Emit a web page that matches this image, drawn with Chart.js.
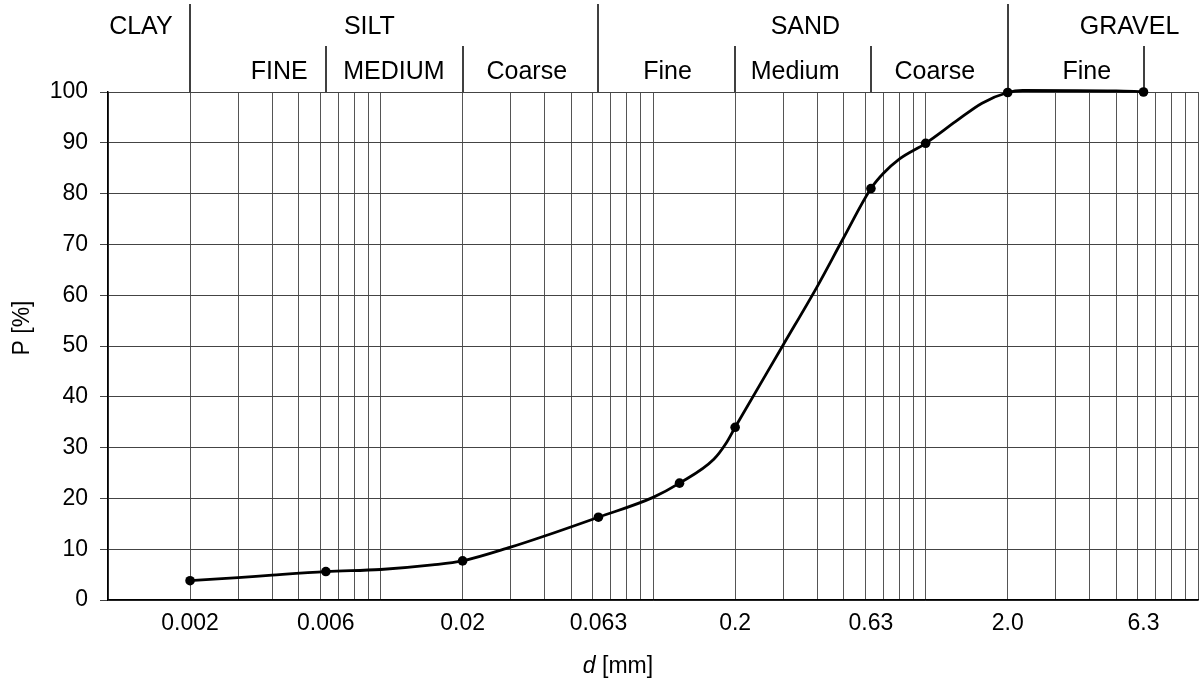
<!DOCTYPE html>
<html>
<head>
<meta charset="utf-8">
<script src="https://cdn.jsdelivr.net/npm/chart.js@4.4.1/dist/chart.umd.min.js"></script>
<style>
  body { margin: 0; background: #fff; }
  #wrap { width: 1203px; height: 685px; }
</style>
</head>
<body>
<div id="wrap"><canvas id="grading" width="1203" height="685"></canvas></div>
<script>
// grading curve: grain size d [mm] and passing P [%]
const curveSizes   = [0.002, 0.003, 0.004, 0.0063, 0.01, 0.0155, 0.02, 0.03, 0.04, 0.063, 0.1, 0.125, 0.167, 0.185, 0.2, 0.3, 0.4, 0.5, 0.63, 0.7, 0.8, 1.0, 1.29, 1.61, 2.0, 2.27, 5.0, 6.3];
const curvePassing = [3.8, 4.4, 4.9, 5.6, 6.0, 6.9, 7.7, 10.4, 12.6, 16.3, 20.2, 23.0, 27.7, 30.8, 34.0, 50.2, 61.7, 71.3, 81.0, 84.0, 86.8, 89.9, 94.2, 97.8, 99.9, 100.3, 100.2, 100.05];

// sieve results (the dots)
const sieveSizes   = [0.002, 0.0063, 0.02, 0.063, 0.125, 0.2, 0.63, 1.0, 2.0, 6.3];
const sievePassing = [3.8, 5.6, 7.7, 16.3, 23.0, 34.0, 81.0, 89.9, 99.9, 100.0];

// x axis: log grid lines and labelled sizes
const gridDecades = [0.001, 0.01, 0.1, 1];
const gridSteps   = [1, 2, 3, 4, 5, 6, 7, 8, 9];
const xLabelSizes = [0.002, 0.0063, 0.02, 0.063, 0.2, 0.63, 2.0, 6.3];
const xLabelTexts = ['0.002', '0.006', '0.02', '0.063', '0.2', '0.63', '2.0', '6.3'];

// soil classes above the plot
const mainBounds  = [0.002, 0.063, 2.0];
const subBounds   = [0.0063, 0.02, 0.2, 0.63, 6.3];
const mainClasses = ['CLAY', 'SILT', 'SAND', 'GRAVEL'];
const subClasses  = ['FINE', 'MEDIUM', 'Coarse', 'Fine', 'Medium', 'Coarse', 'Fine'];
// where the class names sit along the axis (mm)
const mainLabelAt = [0.00132, 0.0091, 0.362, 5.6];
const subLabelAt  = [0.00425, 0.0112, 0.0344, 0.113, 0.332, 1.08, 3.9];

const FONT = '"Liberation Sans", Arial, sans-serif';

let xTicks = [];
gridDecades.forEach(dec => gridSteps.forEach(s => xTicks.push({ value: s * dec, grid: true, text: '' })));
xTicks.push({ value: 10, grid: true, text: '' });
xLabelSizes.forEach((v, i) => {
    const hit = xTicks.find(t => Math.abs(Math.log10(t.value / v)) < 1e-6);
    if (hit) {
        hit.text = xLabelTexts[i];
    } else {
        xTicks.push({ value: v, grid: false, text: xLabelTexts[i] });
    }
});
xTicks.sort((a, b) => a.value - b.value);

const soilHeader = {
    id: 'soilHeader',
    afterDraw: function(chart) {
        const ctx = chart.ctx;
        const xs = chart.scales.x;
        const top = chart.chartArea.top;
        ctx.save();
        ctx.strokeStyle = '#000';
        ctx.lineWidth = 1.5;
        mainBounds.forEach(b => {
            const px = Math.round(xs.getPixelForValue(b));
            ctx.beginPath(); ctx.moveTo(px, 4); ctx.lineTo(px, top); ctx.stroke();
        });
        subBounds.forEach(b => {
            const px = Math.round(xs.getPixelForValue(b));
            ctx.beginPath(); ctx.moveTo(px, 46); ctx.lineTo(px, top); ctx.stroke();
        });

        ctx.fillStyle = '#000';
        ctx.textAlign = 'center';
        ctx.textBaseline = 'alphabetic';
        ctx.font = '25px ' + FONT;
        mainClasses.forEach((name, i) => ctx.fillText(name, xs.getPixelForValue(mainLabelAt[i]), 34));
        subClasses.forEach((name, i) => ctx.fillText(name, xs.getPixelForValue(subLabelAt[i]), 79));

        // axis titles
        ctx.font = '23px ' + FONT;
        ctx.save();
        ctx.translate(23, 328);
        ctx.rotate(-Math.PI / 2);
        ctx.textBaseline = 'middle';
        ctx.fillText('P [%]', 0, 0);
        ctx.restore();

        ctx.textAlign = 'left';
        ctx.font = 'italic 23px ' + FONT;
        const wD = ctx.measureText('d').width;
        ctx.font = '23px ' + FONT;
        const wRest = ctx.measureText(' [mm]').width;
        const x0 = 618 - (wD + wRest) / 2;
        ctx.font = 'italic 23px ' + FONT;
        ctx.fillText('d', x0, 673);
        ctx.font = '23px ' + FONT;
        ctx.fillText(' [mm]', x0 + wD, 673);
        ctx.restore();
    }
};

new Chart(document.getElementById('grading'), {
    type: 'line',
    data: {
        datasets: [{
            data: curveSizes.map((d, i) => ({ x: d, y: curvePassing[i] })),
            borderColor: '#000',
            borderWidth: 2.8,
            pointRadius: 0,
            cubicInterpolationMode: 'monotone',
            fill: false,
            clip: false
        }, {
            data: sieveSizes.map((d, i) => ({ x: d, y: sievePassing[i] })),
            showLine: false,
            pointRadius: 4.8,
            pointBackgroundColor: '#000',
            pointBorderWidth: 0,
            clip: false
        }]
    },
    options: {
        responsive: false,
        animation: false,
        events: [],
        layout: { padding: { top: 92, right: 4, left: 0, bottom: 0 } },
        plugins: {
            legend: { display: false },
            tooltip: { enabled: false }
        },
        scales: {
            x: {
                type: 'logarithmic',
                min: 0.001,
                max: 10,
                afterBuildTicks: function(axis) {
                    axis.ticks = xTicks.map(t => ({ value: t.value }));
                },
                afterFit: function(axis) {
                    axis.height = 85;
                    axis.paddingLeft = 0;
                    axis.paddingRight = 0;
                },
                ticks: {
                    autoSkip: false,
                    maxRotation: 0,
                    padding: 10,
                    color: '#000',
                    font: { family: FONT, size: 23 },
                    callback: function(value, index) { return xTicks[index] ? xTicks[index].text : ''; }
                },
                grid: {
                    drawTicks: false,
                    lineWidth: 1,
                    color: function(c) {
                        const t = xTicks[c.index];
                        return (t && t.grid) ? '#555' : 'rgba(0,0,0,0)';
                    }
                },
                border: { color: '#000', width: 1.5 }
            },
            y: {
                min: 0,
                max: 100,
                afterFit: function(axis) {
                    axis.width = 108;
                    axis.paddingTop = 0;
                    axis.paddingBottom = 0;
                },
                ticks: {
                    stepSize: 10,
                    padding: 12,
                    color: '#000',
                    font: { family: FONT, size: 23 }
                },
                grid: { color: '#444', lineWidth: 1, tickLength: 8 },
                border: { color: '#000', width: 1.5 }
            }
        }
    },
    plugins: [soilHeader]
});
</script>
</body>
</html>
